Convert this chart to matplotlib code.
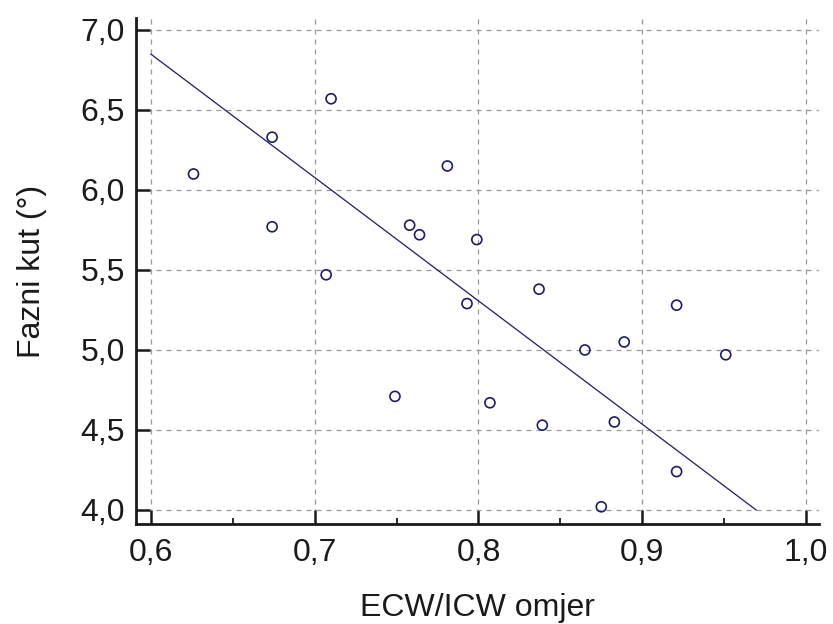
import numpy as np
import matplotlib
matplotlib.use('agg')
from matplotlib import pyplot as plt
from matplotlib.ticker import MultipleLocator, FuncFormatter

plt.rcParams['font.family'] = ['Liberation Sans', 'DejaVu Sans']

# ECW/ICW ratio vs phase angle
ecw_icw = [0.626, 0.674, 0.710, 0.674, 0.707, 0.781, 0.758, 0.764, 0.799,
           0.793, 0.837, 0.921, 0.865, 0.889, 0.951, 0.807, 0.839, 0.883,
           0.921, 0.875, 0.749]
fazni_kut = [6.10, 6.33, 6.57, 5.77, 5.47, 6.15, 5.78, 5.72, 5.69,
             5.29, 5.38, 5.28, 5.00, 5.05, 4.97, 4.67, 4.53, 4.55,
             4.24, 4.02, 4.71]

x = np.array(ecw_icw)
y = np.array(fazni_kut)
navy = '#1c1c6a'

fig = plt.figure(figsize=(8.33, 6.24), dpi=100)
ax = fig.add_axes([0.1633, 0.1603, 0.8200, 0.8109])

xmin, xmax = 0.5909, 1.008
ymin, ymax = 3.9125, 7.075

# reduced major axis line through the means, from x = 0.6 down to y = 4.0
r = np.corrcoef(x, y)[0, 1]
m = np.sign(r) * y.std() / x.std()
b = y.mean() - m * x.mean()
x_end = (4.0 - b) / m
xl = np.array([0.6, x_end])
ax.plot(xl, m * xl + b, color=navy, lw=0.9, zorder=3)

ax.scatter(x, y, s=52, facecolors='none', edgecolors=navy, linewidths=1.2, zorder=4)

ax.set_xlim(xmin, xmax)
ax.set_ylim(ymin, ymax)

ax.xaxis.set_major_locator(MultipleLocator(0.1))
ax.xaxis.set_minor_locator(MultipleLocator(0.05))
ax.yaxis.set_major_locator(MultipleLocator(0.5))
comma = FuncFormatter(lambda v, p: ('%.1f' % v).replace('.', ','))
ax.xaxis.set_major_formatter(comma)
ax.yaxis.set_major_formatter(comma)

ax.grid(True, which='major', color='#999999', ls=(0, (4, 4)), lw=0.9)
ax.set_axisbelow(True)

for s in ['top', 'right']:
    ax.spines[s].set_visible(False)
for s in ['left', 'bottom']:
    ax.spines[s].set_linewidth(2.0)
    ax.spines[s].set_color('#1a1a1a')

ax.tick_params(which='major', direction='in', length=10, width=1.8,
               labelsize=23, pad=8, colors='#1a1a1a')
ax.tick_params(which='minor', direction='in', length=4, width=1.3, colors='#1a1a1a')
ax.tick_params(axis='y', which='minor', left=False)
ax.tick_params(axis='x', pad=10)

ax.set_xlabel('ECW/ICW omjer', fontsize=23, color='#1a1a1a', labelpad=18)
ax.set_ylabel('Fazni kut (°)', fontsize=23, color='#1a1a1a', labelpad=24)

plt.savefig('out.png', dpi=100)
